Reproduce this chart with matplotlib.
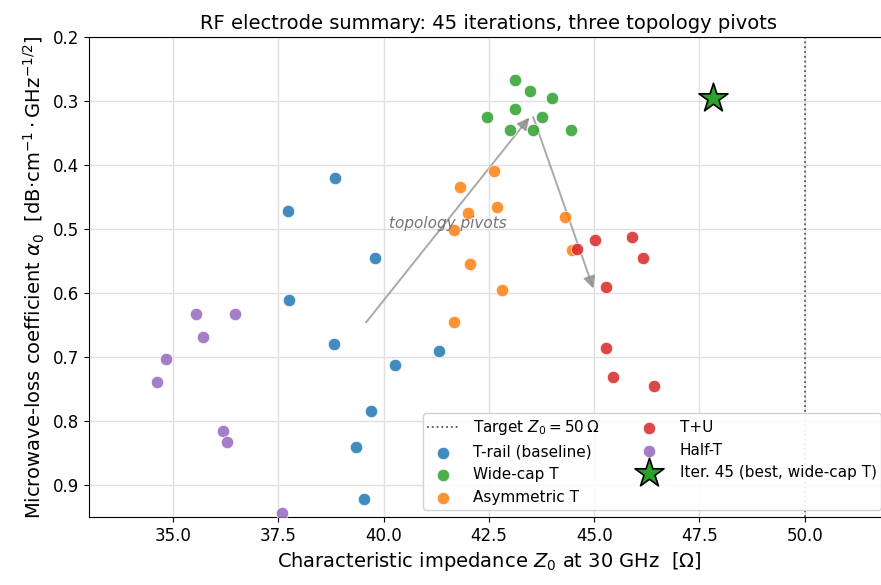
import matplotlib
matplotlib.use("Agg")
import matplotlib.pyplot as plt

# ---- data ----
trail_z0 = [38.85, 37.72, 39.80, 37.76, 38.82, 40.26, 41.31, 39.70, 39.34, 39.54]
trail_a0 = [0.421, 0.472, 0.545, 0.611, 0.680, 0.713, 0.690, 0.784, 0.840, 0.921]

widecap_z0 = [43.13, 43.47, 44.00, 43.13, 42.45, 43.77, 43.00, 43.54, 44.44]
widecap_a0 = [0.268, 0.284, 0.296, 0.313, 0.325, 0.325, 0.346, 0.346, 0.346]

asym_z0 = [42.63, 41.82, 42.69, 42.01, 44.30, 41.68, 44.47, 42.04, 42.81, 41.68]
asym_a0 = [0.409, 0.434, 0.466, 0.475, 0.481, 0.502, 0.533, 0.555, 0.596, 0.645]

tu_z0 = [45.02, 45.90, 44.60, 46.16, 45.27, 45.27, 45.45, 46.42]
tu_a0 = [0.518, 0.513, 0.531, 0.546, 0.591, 0.686, 0.731, 0.745]

half_z0 = [35.55, 36.46, 35.70, 34.83, 34.61, 36.19, 36.27, 37.59]
half_a0 = [0.633, 0.633, 0.669, 0.703, 0.739, 0.815, 0.832, 0.944]

best_z0, best_a0 = 47.83, 0.296
target_z0 = 50.0

pivot_from = [(39.58, 0.646), (43.55, 0.325)]
pivot_to = [(43.46, 0.326), (44.98, 0.593)]
pivot_text = "topology pivots"
pivot_text_pos = (41.53, 0.492)

x_ticks = [35.0, 37.5, 40.0, 42.5, 45.0, 47.5, 50.0]
y_ticks = [0.2, 0.3, 0.4, 0.5, 0.6, 0.7, 0.8, 0.9]

# ---- plot ----
fig = plt.figure(figsize=(8.81, 5.85), dpi=100)
ax = fig.add_axes([0.101, 0.116, 0.908, 0.821])

ax.grid(True, color="#e0e0e0", linewidth=1.0, zorder=0)
ax.set_axisbelow(True)

ax.axvline(target_z0, color="0.35", linestyle=":", linewidth=1.3,
           label=r"Target $Z_0 = 50\,\Omega$", zorder=1)

kw = dict(s=80, alpha=0.85, edgecolors="white", linewidths=0.6, zorder=3)
ax.scatter(trail_z0, trail_a0, color="tab:blue", label="T-rail (baseline)", **kw)
ax.scatter(widecap_z0, widecap_a0, color="tab:green", label="Wide-cap T", **kw)
ax.scatter(asym_z0, asym_a0, color="tab:orange", label="Asymmetric T", **kw)
ax.scatter(tu_z0, tu_a0, color="tab:red", label="T+U", **kw)
ax.scatter(half_z0, half_a0, color="tab:purple", label="Half-T", **kw)
ax.scatter([best_z0], [best_a0], marker="*", s=480, color="tab:green",
           edgecolors="black", linewidths=1.2, zorder=5,
           label="Iter. 45 (best, wide-cap T)")

for (x0, y0), (x1, y1) in zip(pivot_from, pivot_to):
    ax.annotate("", xy=(x1, y1), xytext=(x0, y0),
                arrowprops=dict(arrowstyle="-|>", color="0.55", alpha=0.75,
                                lw=1.4, mutation_scale=18,
                                shrinkA=0, shrinkB=0), zorder=2)
ax.text(pivot_text_pos[0], pivot_text_pos[1], pivot_text, fontsize=11,
        style="italic", color="0.45", ha="center", va="center", zorder=4)

ax.set_xlim(33.0, 52.0)
ax.set_ylim(0.95, 0.2)
ax.set_xticks(x_ticks)
ax.set_xticklabels([f"{v:.1f}" for v in x_ticks])
ax.set_yticks(y_ticks)
ax.set_yticklabels([f"{v:.1f}" for v in y_ticks])
ax.tick_params(labelsize=12)

ax.set_xlabel(r"Characteristic impedance $Z_0$ at 30 GHz  [$\Omega$]", fontsize=14)
ax.set_ylabel(r"Microwave-loss coefficient $\alpha_0$  [dB·cm$^{-1}\cdot$GHz$^{-1/2}$]",
              fontsize=14)
ax.set_title("RF electrode summary: 45 iterations, three topology pivots",
             fontsize=14)

ax.legend(loc="lower right", ncol=2, fontsize=11, framealpha=0.9,
          handletextpad=1.0, columnspacing=2.26, borderpad=0.3)

fig.savefig("out.png", dpi=100)
